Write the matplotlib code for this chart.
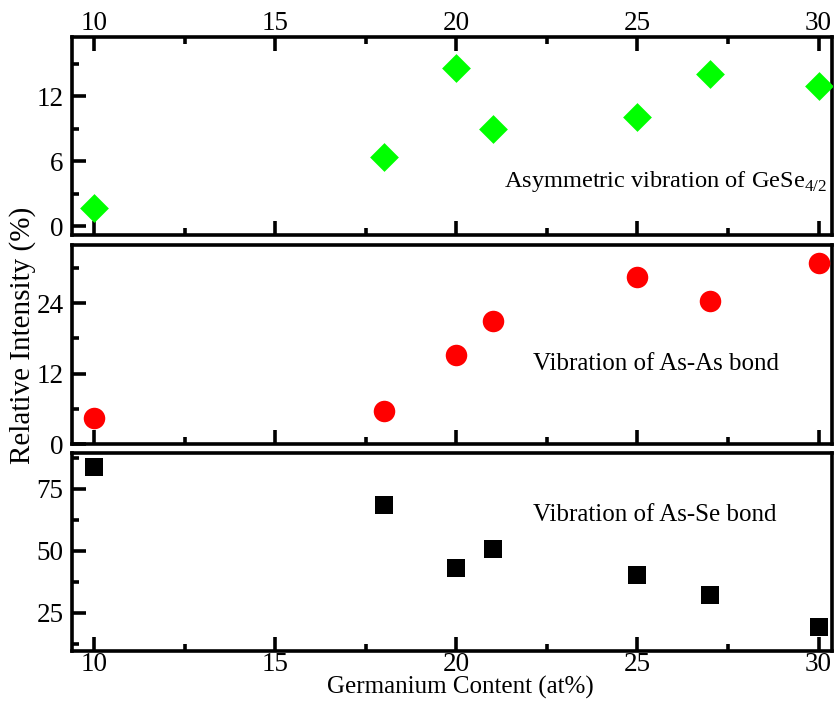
import matplotlib
matplotlib.use("Agg")
import matplotlib.pyplot as plt
from matplotlib.ticker import MultipleLocator

plt.rcParams["font.family"] = ["Liberation Serif", "DejaVu Serif"]
plt.rcParams["mathtext.fontset"] = "custom"
plt.rcParams["mathtext.rm"] = "Liberation Serif"

# Germanium content (at%)
ge_content = [10, 18, 20, 21, 25, 27, 30]

# Relative intensities (%)
gese_asym = [1.7, 6.4, 14.6, 9.0, 10.1, 14.0, 12.95]
as_as = [4.5, 5.6, 15.1, 21.0, 28.4, 24.4, 30.9]
as_se = [84.0, 68.3, 43.0, 50.8, 40.4, 32.3, 19.0]

fig = plt.figure(figsize=(8.35, 7.04), dpi=100)

left, width = 0.0862, 0.9102
ax1 = fig.add_axes([left, 0.6662, width, 0.2812])
ax2 = fig.add_axes([left, 0.3693, width, 0.2827], sharex=ax1)
ax3 = fig.add_axes([left, 0.0753, width, 0.2812], sharex=ax1)

ax1.scatter(ge_content, gese_asym, marker="D", s=215, color="#00ff00",
            linewidths=0, zorder=3)
ax2.scatter(ge_content, as_as, marker="o", s=240, color="#ff0000",
            linewidths=0, zorder=3)
ax3.scatter(ge_content, as_se, marker="s", s=165, color="black",
            linewidths=0, zorder=3)

ax1.set_ylim(-0.8, 17.45)
ax2.set_ylim(0, 33.9)
ax3.set_ylim(9.5, 89.5)
ax1.set_xlim(9.39, 30.37)

ax1.yaxis.set_major_locator(MultipleLocator(6))
ax1.yaxis.set_minor_locator(MultipleLocator(3))
ax2.yaxis.set_major_locator(MultipleLocator(12))
ax2.yaxis.set_minor_locator(MultipleLocator(6))
ax3.yaxis.set_major_locator(MultipleLocator(25))
ax3.yaxis.set_minor_locator(MultipleLocator(12.5))
ax1.xaxis.set_major_locator(MultipleLocator(5))
ax1.xaxis.set_minor_locator(MultipleLocator(2.5))

for ax in (ax1, ax2, ax3):
    for sp in ax.spines.values():
        sp.set_linewidth(2.6)
    ax.tick_params(axis="both", which="major", direction="in", length=10,
                   width=2.6, labelsize=19.5)
    ax.tick_params(axis="both", which="minor", direction="in", length=5,
                   width=2.6)
    ax.tick_params(axis="y", right=False, which="both", pad=6)
    ax.tick_params(axis="x", top=False, bottom=True, labelbottom=False,
                   which="both", pad=1)

ax1.tick_params(axis="x", which="both", top=True, labeltop=True)
ax3.tick_params(axis="x", which="both", labelbottom=True)

ax1.text(0.993, 0.27, r"Asymmetric vibration of GeSe$_{4/2}$",
         transform=ax1.transAxes, ha="right", va="center", fontsize=17.6)
ax2.text(0.607, 0.40, "Vibration of As-As bond", transform=ax2.transAxes,
         ha="left", va="center", fontsize=18)
ax3.text(0.607, 0.685, "Vibration of As-Se bond", transform=ax3.transAxes,
         ha="left", va="center", fontsize=18)

fig.text(0.027, 0.524, "Relative Intensity (%)", rotation=90,
         ha="center", va="center", fontsize=21)
fig.text(0.551, 0.023, "Germanium Content (at%)", ha="center",
         va="center", fontsize=18)

fig.savefig("out.png", dpi=100)
